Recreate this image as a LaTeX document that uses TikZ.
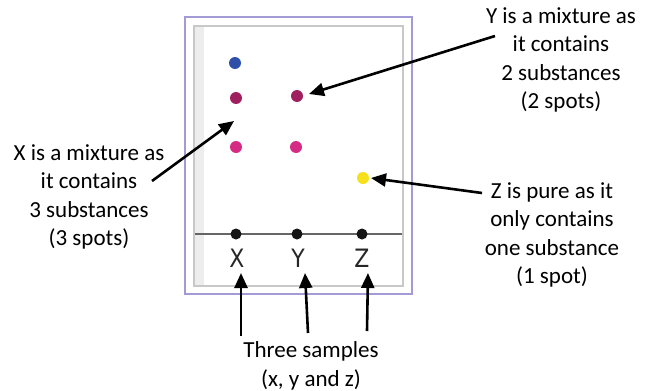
\documentclass[tikz,border=0pt]{standalone}
\usepackage{fontspec}
\setmainfont{Carlito}
\newfontfamily\letterfont{DejaVu Sans}
\usetikzlibrary{arrows.meta}
\definecolor{spotblue}{HTML}{2F4FA8}
\definecolor{spotdark}{HTML}{A0205F}
\definecolor{spotpink}{HTML}{D52B84}
\definecolor{spotyellow}{HTML}{F6E019}
\definecolor{spotblack}{HTML}{151515}
\definecolor{framepurple}{HTML}{A29BD6}
\definecolor{framegray}{HTML}{C8C8C8}
\begin{document}
\begin{tikzpicture}[x=1pt,y=-1pt,
  spot/.style={circle,inner sep=0pt,minimum size=12pt,fill=#1},
  basespot/.style={circle,inner sep=0pt,minimum size=11pt,fill=spotblack},
  lab/.style={align=center,font=\fontsize{23}{28.5}\selectfont,inner sep=0pt},
  letter/.style={font=\letterfont\fontsize{22}{22}\selectfont,text=black!85,inner sep=0pt,yscale=1.15},
  arr/.style={line width=2.6pt,-{Triangle[length=15pt,width=13pt]}}]
\useasboundingbox (0,0) rectangle (646,391);
% plate
\fill[white] (185,17) rectangle (412,294);
\fill[black!7] (195,27) rectangle (204,285);
\draw[framegray,line width=1.6pt] (194,26) rectangle (403,286);
\draw[framepurple,line width=2pt] (185,17) rectangle (412,294);
\draw[black!60,line width=1.5pt] (195,234) -- (402,234);
% spots
\node[spot=spotblue] (xblue) at (235,63) {};
\node[spot=spotdark] (xdark) at (236,98) {};
\node[spot=spotpink] (xpink) at (236,147) {};
\node[spot=spotdark] (ydark) at (297,96) {};
\node[spot=spotpink] (ypink) at (296,147) {};
\node[spot=spotyellow] (zyel) at (363,178) {};
\node[basespot] (xbase) at (236,234) {};
\node[basespot] (ybase) at (297,234) {};
\node[basespot] (zbase) at (362,234) {};
% letters
\node[letter] (xl) at (237,258) {X};
\node[letter] (yl) at (298,258) {Y};
\node[letter] (zl) at (362,258) {Z};
% labels
\node[lab] (xtext) at (89,197) {X is a mixture as\\it contains\\3 substances\\(3 spots)};
\node[lab] (ytext) at (561,60) {Y is a mixture as\\it contains\\2 substances\\(2 spots)};
\node[lab] (ztext) at (552,235) {Z is pure as it\\only contains\\one substance\\(1 spot)};
\node[lab] (stext) at (311,366) {Three samples\\(x, y and z)};
% arrow ends
\coordinate (xtail) at (152,181);
\coordinate (xtip) at (234,121);
\coordinate (ytail) at (495,36);
\coordinate (ytip) at (309,94);
\coordinate (ztail) at (482,193);
\coordinate (ztip) at (371,178);
\coordinate (s1tail) at (241,336);
\coordinate (s1tip) at (241,273);
\coordinate (s2tail) at (308,333);
\coordinate (s2tip) at (305,273);
\coordinate (s3tail) at (367,331);
\coordinate (s3tip) at (368,273);
\draw[arr] (xtail) -- (xtip);
\draw[arr] (ytail) -- (ytip);
\draw[arr] (ztail) -- (ztip);
\draw[arr] (s1tail) -- (s1tip);
\draw[arr] (s2tail) -- (s2tip);
\draw[arr] (s3tail) -- (s3tip);
\end{tikzpicture}
\end{document}
